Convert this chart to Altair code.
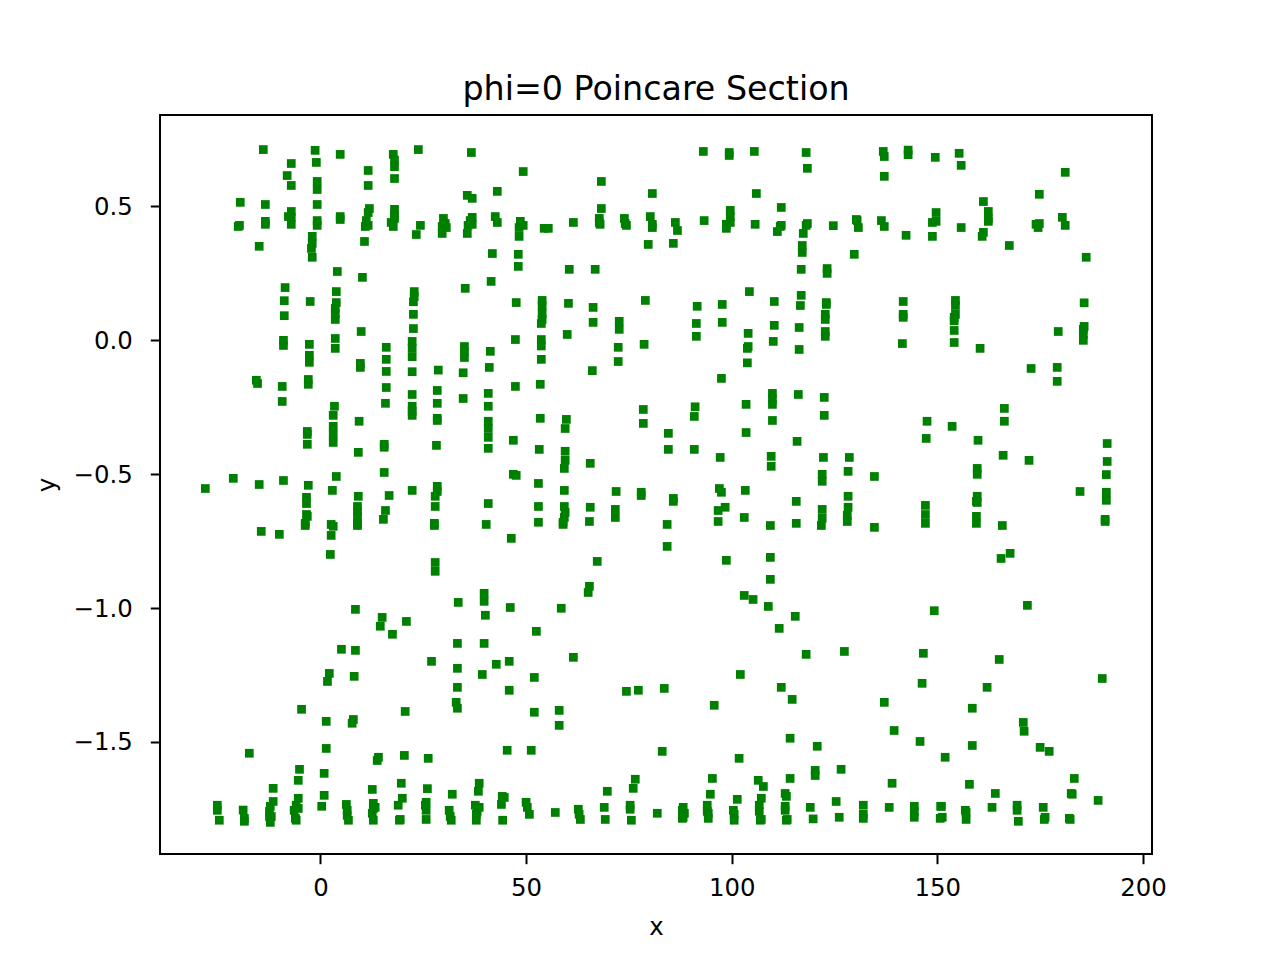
import altair as alt
import pandas as pd

upper_a = [(-13.9,.711),(-1.3,.708),(4.8,.693),(17.7,.693),(18.0,.672),(18.0,.647),(-7.1,.659),(-1.0,.663),(-8.1,.614),(11.6,.633),(18.0,.603),(-7.1,.577),(-0.8,.592),(-0.8,.562),(11.6,.577),
(-19.5,.514),(-13.4,.506),(-0.8,.506),(11.9,.491),(11.6,.476),(18.0,.488),(18.0,.466),(-7.1,.480),(-7.8,.461),(-7.1,.458),(-7.1,.432),(-13.4,.443),(-13.4,.432),(-0.8,.446),(-0.8,.428),(4.8,.461),(4.8,.450),(11.15,.446),(11.6,.428),(10.9,.424),(18.0,.454),(17.2,.439),(17.7,.424),(-19.7,.428),(-20.0,.424),
(-2.0,.387),(-2.0,.361),(-2.2,.342),(-2.0,.309),(-14.9,.350),(10.7,.368),
(4.1,.256),(10.2,.234),(-8.6,.196),(3.85,.181),(-8.8,.147),(-2.5,.144),(3.85,.140),(3.6,.118),(3.6,.099),(3.6,.077),(-8.8,.091),(9.9,.032),(-9.0,-.001),(-9.0,-.020),(3.6,.006),(3.6,-.031),(-2.7,-.016),(-2.7,-.057),(-2.7,-.083),(16.0,-.027),(16.0,-.072),(9.7,-.087),(9.7,-.102)]

upper_b = [(23.8,.711),(36.7,.700),(49.3,.629),(68.3,.592),(80.7,.547),(43.0,.555),(35.7,.540),(36.9,.529),(68.3,.491),
(29.9,.454),(30.35,.435),(30.6,.420),(29.6,.424),(29.6,.398),(24.3,.428),(23.3,.394),(36.9,.458),(36.4,.446),(36.9,.432),(35.9,.428),(35.7,.398),(42.5,.461),(43.0,.439),(48.6,.443),(49.3,.428),(48.3,.420),(48.3,.387),(54.4,.417),(55.4,.417),(61.5,.439),(67.8,.454),(67.8,.439),(68.0,.432),(73.9,.454),(74.1,.435),(74.4,.428),(80.2,.461),(80.7,.432),(80.7,.420),(79.7,.357),
(41.8,.323),(48.1,.320),(48.1,.275),(60.5,.264),(66.8,.264),(41.5,.219),(35.2,.193),
(22.8,.181),(22.8,.162),(22.6,.143),(22.6,.096),(22.6,.043),
(47.6,.140),(53.9,.148),(53.9,.128),(53.9,.099),(53.9,.077),(53.7,.062),(60.3,.137),(66.3,.122),(66.3,.066),(72.65,.070),(72.65,.040),(79.0,.148),
(60.0,.021),(47.4,.002),(53.7,.002),(53.7,-.022),(53.7,-.072),(72.4,-.027),(72.4,-.080),(78.7,-.016),
(22.3,-.005),(22.3,-.031),(22.3,-.062),(35.0,-.024),(35.0,-.044),(35.0,-.065),(41.3,-.042),(41.05,-.102)]

upper_c = [(93.1,.704),(99.4,.700),(99.4,.689),(105.5,.704),(118.1,.700),(118.4,.641),(136.85,.704),(137.1,.685),(137.1,.611),(106.0,.547),(112.05,.495),
(86.3,.439),(86.8,.409),(85.8,.361),(93.3,.446),(99.65,.484),(99.65,.461),(99.65,.439),(98.7,.432),(98.7,.417),(105.7,.432),(112.05,.428),(111.8,.424),(111.1,.405),(118.4,.435),(118.1,.428),(117.4,.398),(124.7,.427),(130.3,.450),(130.5,.446),(130.8,.420),(136.4,.446),(137.1,.424),(117.15,.353),(117.15,.327),(129.8,.320),(116.9,.264),(123.2,.267),(123.2,.249),
(104.3,.181),(91.6,.126),(97.7,.133),(110.35,.144),(116.9,.167),(116.7,.129),(123.0,.140),(123.0,.133),(91.4,.062),(97.7,.066),(110.35,.055),(116.4,.047),(122.75,.096),(122.75,.077),
(91.4,.014),(104.0,.025),(110.1,-.005),(122.75,.032),(122.75,.014),(104.0,-.024),(103.8,-.031),(116.4,-.035),(103.8,-.085)]

upper_d = [(142.9,.709),(142.9,.692),(149.5,.682),(155.3,.697),(155.8,.652),(181.1,.626),(174.8,.544),(161.2,.517),
(149.7,.476),(149.7,.443),(148.8,.439),(155.8,.420),(162.4,.480),(162.4,.454),(162.4,.443),(148.8,.387),(142.4,.391),(161.2,.402),(160.9,.387),(167.5,.353),(174.8,.435),(174.0,.432),(174.5,.420),(180.4,.458),(181.1,.428),(186.2,.309),
(141.7,.144),(141.7,.096),(141.7,.085),(154.4,.148),(154.4,.129),(154.4,.096),(154.1,.085),(154.1,.072),(154.1,.036),(154.1,-.009),(141.5,-.013),(160.4,-.031),
(185.7,.139),(185.7,.051),(185.5,.040),(185.5,.021),(185.5,-.001),(179.4,.032),(172.8,-.106),(179.15,-.102)]

middle_a = [(-15.6,-.150),(-15.3,-.162),(-9.3,-.173),(-2.96,-.147),(-2.96,-.165),(16.0,-.117),(16.0,-.177),(-9.3,-.229),(15.8,-.236),(3.4,-.247),(3.1,-.281),(9.4,-.303),(-3.2,-.341),(-3.2,-.352),(3.1,-.322),(3.1,-.352),(3.1,-.382),(-3.2,-.389),(15.5,-.389),(15.5,-.400),(9.2,-.419),
(3.85,-.509),(-21.2,-.516),(-14.9,-.539),(-9.0,-.524),(-2.96,-.542),(-28.0,-.554),(2.9,-.561),(15.5,-.494),(-3.4,-.587),(-3.4,-.610),(9.2,-.583),(16.7,-.580),(9.0,-.621),(9.0,-.639),(9.0,-.658),(9.0,-.684),(9.0,-.692),(-3.4,-.651),(-3.2,-.658),(-3.7,-.684),(-3.7,-.692),(15.8,-.636),(15.3,-.669),(2.6,-.688),(3.1,-.695),(2.6,-.729),(-14.4,-.714),(-10.0,-.725),(2.4,-.800),(8.5,-1.005)]

middle_b = [(22.3,-.118),(28.65,-.112),(34.7,-.122),(66.1,-.114),
(47.4,-.173),(53.45,-.165),(28.4,-.188),(22.3,-.203),(40.8,-.199),(34.7,-.218),(28.4,-.236),(40.8,-.247),(22.3,-.247),(22.3,-.266),(22.3,-.281),(28.4,-.292),(28.4,-.300),(40.8,-.303),(40.8,-.330),(40.8,-.363),(40.8,-.404),(53.45,-.292),(59.8,-.296),(59.5,-.330),(78.5,-.259),(78.5,-.311),(28.2,-.393),(46.9,-.374),(53.2,-.408),(59.5,-.415),(59.5,-.449),(59.3,-.479),(65.6,-.460),
(46.9,-.501),(47.6,-.505),(53.0,-.535),(59.3,-.561),(71.9,-.565),(78.0,-.568),(78.0,-.580),(22.3,-.561),(28.4,-.546),(28.4,-.565),(27.9,-.583),(27.9,-.621),(40.8,-.610),(53.0,-.621),(59.3,-.621),(59.5,-.643),(59.3,-.662),(59.0,-.680),(59.0,-.688),(65.6,-.624),(71.7,-.632),(71.7,-.662),(65.4,-.677),(27.7,-.684),(27.7,-.692),(40.3,-.688),(53.0,-.680),(46.4,-.740),(27.9,-.830),(27.9,-.863),(67.3,-.826),(65.4,-.919),(65.1,-.942),(39.8,-.945),(39.8,-.975),(33.5,-.979),(46.15,-.998),(58.55,-1.001)]

middle_c = [(97.5,-.143),(109.9,-.199),(109.9,-.221),(109.9,-.240),(116.2,-.203),(122.5,-.214),(91.1,-.249),(90.9,-.285),(103.5,-.240),(109.9,-.300),(122.5,-.281),(84.6,-.348),(103.5,-.345),(115.9,-.378),(84.6,-.408),(90.9,-.408),(97.2,-.438),(109.6,-.434),(109.6,-.471),(122.3,-.438),(128.6,-.438),(128.3,-.490),(122.0,-.501),(122.0,-.527),(134.7,-.509),
(97.0,-.554),(97.5,-.568),(103.3,-.561),(85.8,-.591),(85.8,-.602),(98.4,-.624),(96.7,-.636),(96.7,-.677),(103.05,-.662),(128.3,-.583),(115.7,-.602),(128.3,-.624),(122.0,-.632),(122.0,-.665),(121.8,-.692),(128.1,-.654),(128.1,-.677),(84.3,-.688),(109.4,-.692),(115.7,-.684),(134.7,-.699),(84.3,-.770),(98.7,-.822),(109.4,-.811),(109.4,-.893),(103.05,-.953),(105.2,-.968),(108.9,-.994)]

middle_d = [(179.15,-.154),(166.3,-.255),(166.3,-.303),(147.5,-.303),(153.6,-.322),(147.3,-.367),(159.9,-.374),(191.3,-.386),(191.3,-.453),(166.0,-.430),(172.3,-.449),(159.7,-.479),(159.7,-.501),(191.1,-.502),(184.7,-.565),(191.1,-.568),(191.1,-.598),(159.7,-.583),(159.5,-.602),(159.7,-.606),(147.1,-.617),(147.1,-.651),(147.1,-.684),(159.5,-.658),(159.5,-.684),(165.8,-.692),(190.8,-.669),(190.8,-.677),(167.7,-.796),(165.5,-.815),(171.9,-.990)]

lower_a = [(15.0,-1.035),(14.55,-1.068),(17.5,-1.098),(20.9,-1.050),(5.1,-1.154),(8.5,-1.158),(2.15,-1.244),(1.7,-1.274),(8.2,-1.255),(-4.6,-1.378),(1.4,-1.423),(8.0,-1.416),(7.7,-1.430),(20.6,-1.386),(-17.3,-1.542),(1.4,-1.524),(14.1,-1.557),(13.8,-1.569),(20.4,-1.550),(-5.1,-1.602),(0.9,-1.617),(-5.4,-1.643),(19.65,-1.654),(-11.5,-1.673),(12.6,-1.677),(0.9,-1.699),(19.9,-1.710),(18.9,-1.736),
(-25.08,-1.736),(-25.08,-1.755),(-24.6,-1.792),(-18.8,-1.754),(-18.5,-1.785),(-18.5,-1.796),(-11.5,-1.722),(-12.2,-1.740),(-12.4,-1.759),(-12.4,-1.778),(-11.95,-1.778),(-12.2,-1.800),(-5.4,-1.710),(-5.9,-1.736),(-5.4,-1.748),(-6.4,-1.755),(-6.1,-1.785),(-5.9,-1.792),(0.3,-1.740),(6.3,-1.733),(6.5,-1.755),(6.5,-1.774),(6.8,-1.792),(12.85,-1.729),(12.85,-1.748),(13.3,-1.744),(12.6,-1.766),(12.85,-1.792),(19.2,-1.792),(19.4,-1.789)]

lower_b = [(40.1,-1.027),(52.5,-1.087),(33.3,-1.132),(39.8,-1.132),(27.0,-1.199),(42.75,-1.210),(45.9,-1.199),(61.5,-1.184),(33.3,-1.225),(39.35,-1.248),(52.0,-1.259),(33.3,-1.296),(45.9,-1.307),(33.0,-1.352),(33.3,-1.374),(52.0,-1.389),(58.05,-1.382),(58.05,-1.438),(74.4,-1.311),(77.3,-1.307),(45.4,-1.531),(51.25,-1.531),(26.2,-1.561),(26.0,-1.674),(32.05,-1.695),(38.6,-1.654),(38.4,-1.684),(76.55,-1.639),(76.05,-1.673),(69.75,-1.684),
(44.7,-1.707),(44.2,-1.703),(44.0,-1.733),(25.7,-1.725),(25.5,-1.736),(25.7,-1.755),(25.7,-1.789),(31.3,-1.755),(31.55,-1.778),(31.8,-1.792),(37.65,-1.736),(38.6,-1.744),(38.1,-1.759),(37.9,-1.770),(37.9,-1.792),(50.0,-1.725),(50.3,-1.744),(50.8,-1.770),(44.3,-1.792),(57.1,-1.763),(62.7,-1.751),(62.9,-1.770),(63.2,-1.789),(69.0,-1.744),(69.25,-1.789),(75.3,-1.736),(75.3,-1.751),(75.6,-1.792),(81.9,-1.766)]

lower_c = [(115.45,-1.031),(111.55,-1.076),(118.1,-1.173),(127.4,-1.162),(102.1,-1.248),(83.6,-1.300),(112.05,-1.296),(114.7,-1.341),(95.75,-1.363),(137.1,-1.352),
(139.5,-1.457),(114.2,-1.486),(120.8,-1.516),(101.8,-1.561),(83.1,-1.535),(120.3,-1.606),(120.3,-1.625),(126.6,-1.602),(95.3,-1.636),(106.45,-1.643),(107.7,-1.666),(114.2,-1.636),(139.0,-1.654),(94.8,-1.695),(101.35,-1.714),(107.2,-1.710),(113.0,-1.692),(113.3,-1.703),(125.4,-1.722),(132.0,-1.736),(138.3,-1.744),
(88.2,-1.744),(88.0,-1.755),(88.5,-1.766),(88.2,-1.781),(88.0,-1.785),(94.05,-1.736),(94.05,-1.759),(94.3,-1.766),(94.3,-1.785),(100.4,-1.755),(100.6,-1.770),(100.6,-1.792),(106.7,-1.736),(106.7,-1.759),(107.2,-1.789),(106.95,-1.792),(113.0,-1.740),(113.0,-1.755),(113.5,-1.789),(113.3,-1.792),(119.1,-1.744),(119.8,-1.787),(126.15,-1.781),(132.0,-1.770),(132.0,-1.785)]

lower_d = [(149.25,-1.010),(146.6,-1.169),(165.05,-1.192),(190.1,-1.263),(146.3,-1.281),(162.1,-1.296),(158.5,-1.374),(170.9,-1.427),(171.1,-1.460),(145.8,-1.498),(158.5,-1.513),(175.0,-1.520),(177.2,-1.535),(151.9,-1.557),(183.3,-1.636),(157.8,-1.658),(164.1,-1.692),(182.55,-1.692),(182.8,-1.695),(189.1,-1.718),
(144.4,-1.740),(144.4,-1.759),(144.4,-1.781),(150.8,-1.740),(151.0,-1.740),(151.2,-1.781),(150.7,-1.785),(156.8,-1.755),(157.0,-1.763),(157.0,-1.789),(163.3,-1.744),(169.4,-1.736),(169.4,-1.755),(169.7,-1.796),(175.75,-1.744),(176.2,-1.781),(176.0,-1.789),(182.1,-1.785),(182.3,-1.789)]

x_ticks = [0, 50, 100, 150, 200]
y_ticks = [-1.5, -1.0, -0.5, 0.0, 0.5]

points = (upper_a + upper_b + upper_c + upper_d + middle_a + middle_b +
          middle_c + middle_d + lower_a + lower_b + lower_c + lower_d)
df = pd.DataFrame(points, columns=["x", "y"])

FONT = "DejaVu Sans"
axis_style = dict(
    grid=False, domain=False, tickColor="black", tickSize=9.7, tickWidth=2,
    labelColor="black", labelFont=FONT, labelFontSize=24.4,
    titleColor="black", titleFont=FONT, titleFontSize=24.4, titleFontWeight="normal",
    labelFlush=False, labelOverlap=False,
)

chart = (
    alt.Chart(df)
    .mark_square(color="#008000", size=76, opacity=1)
    .encode(
        x=alt.X("x:Q", title="x",
                scale=alt.Scale(domain=[-39.02, 202.2], nice=False, zero=False),
                axis=alt.Axis(values=x_ticks, format="d", labelPadding=13, titlePadding=15, **axis_style)),
        y=alt.Y("y:Q", title="y",
                scale=alt.Scale(domain=[-1.918, 0.84], nice=False, zero=False),
                axis=alt.Axis(values=y_ticks, format=".1f", labelPadding=18, labelOffset=1, titlePadding=14, **axis_style)),
    )
    .properties(
        width=992, height=739,
        title=alt.TitleParams("phi=0 Poincare Section", font=FONT, fontSize=33.3,
                              fontWeight="normal", color="black", offset=8),
        autosize="none",
        background="white",
        padding={"left": 152, "top": 107, "right": 120, "bottom": 90},
    )
    .configure_view(stroke="black", strokeWidth=2)
)

chart.save("out.html", embed_options={"renderer": "svg", "actions": False})
